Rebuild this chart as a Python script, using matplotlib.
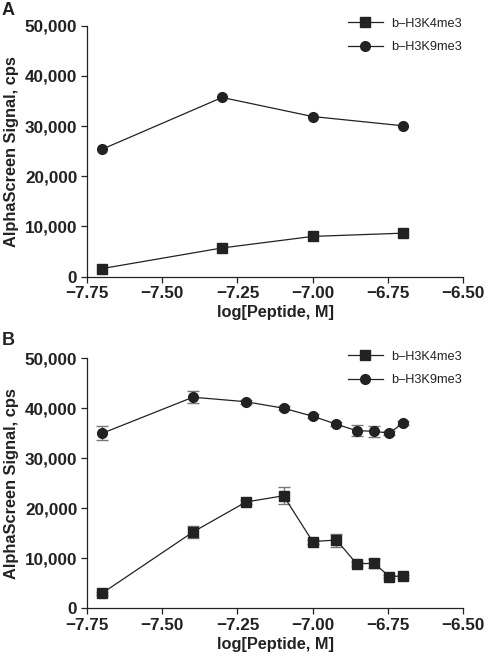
import numpy as np
import matplotlib
matplotlib.use('Agg')
import matplotlib.pyplot as plt
from matplotlib.ticker import FuncFormatter

plt.rcParams['font.family'] = ['Liberation Sans', 'DejaVu Sans']
plt.rcParams['axes.unicode_minus'] = True

# panel A
conc_a = [2e-8, 5e-8, 1e-7, 2e-7]
k4_a = [1600, 5700, 8000, 8650]
k9_a = [25400, 35700, 31900, 30050]

# panel B
conc_b = [2e-8, 4e-8, 6e-8, 8e-8, 1e-7, 1.2e-7, 1.4e-7, 1.6e-7, 1.8e-7, 2e-7]
k4_b = [3050, 15250, 21250, 22500, 13350, 13650, 8900, 9000, 6350, 6450]
k4_b_err = [300, 1200, 400, 1700, 400, 1300, 400, 900, 300, 300]
k9_b = [35000, 42200, 41300, 40000, 38400, 36800, 35500, 35400, 35000, 37100]
k9_b_err = [1400, 1250, 400, 400, 400, 400, 1100, 1100, 400, 400]

labels = ['b\u2013H3K4me3', 'b\u2013H3K9me3']
xticks = [-7.75, -7.5, -7.25, -7.0, -6.75, -6.5]
yticks = [0, 10000, 20000, 30000, 40000, 50000]

fig = plt.figure(figsize=(4.89, 6.6), dpi=100)
ax_a = fig.add_axes([0.178, 0.581, 0.769, 0.380])
ax_b = fig.add_axes([0.178, 0.0783, 0.769, 0.379])

mk = dict(color='#222222', lw=0.9, markersize=7, clip_on=False, zorder=3)


def style(ax, handles, top):
    ax.set_xlim(-7.75, -6.5)
    ax.set_ylim(0, 50000)
    ax.set_xticks(xticks)
    ax.set_yticks(yticks)
    ax.xaxis.set_major_formatter(FuncFormatter(lambda v, p: ('%.2f' % v).replace('-', '\u2212')))
    ax.yaxis.set_major_formatter(FuncFormatter(lambda v, p: '{:,.0f}'.format(v)))
    for s in ['top', 'right']:
        ax.spines[s].set_visible(False)
    for s in ['left', 'bottom']:
        ax.spines[s].set_linewidth(0.9)
        ax.spines[s].set_color('#222222')
    ax.tick_params(direction='out', length=4, width=0.9, color='#222222',
                   labelsize=12.3, labelcolor='#222222', pad=3)
    for t in ax.get_xticklabels() + ax.get_yticklabels():
        t.set_fontweight('bold')
    ax.set_xlabel('log[Peptide, M]', fontsize=11.8, fontweight='bold', color='#222222', labelpad=3)
    ax.set_ylabel('AlphaScreen Signal, cps', fontsize=11.8, fontweight='bold', color='#222222', labelpad=4)
    ax.legend(handles=handles, labels=labels, loc='upper right', bbox_to_anchor=(1.027, top),
              frameon=False, fontsize=9.2, handlelength=2.8, labelspacing=0.9,
              handletextpad=0.6, labelcolor='#222222')


xa = np.log10(conc_a)
la, = ax_a.plot(xa, k4_a, marker='s', **mk)
lb, = ax_a.plot(xa, k9_a, marker='o', **mk)
style(ax_a, [la, lb], 1.077)

xb = np.log10(conc_b)
e1 = ax_b.errorbar(xb, k4_b, yerr=k4_b_err, marker='s', ecolor='#777777',
                   elinewidth=1.0, capsize=4, capthick=1.0, **mk)
e2 = ax_b.errorbar(xb, k9_b, yerr=k9_b_err, marker='o', ecolor='#777777',
                   elinewidth=1.0, capsize=4, capthick=1.0, **mk)
style(ax_b, [e1[0], e2[0]], 1.075)

fig.text(0.004, 0.997, 'A', fontsize=13, fontweight='bold', va='top', color='#222222')
fig.text(0.004, 0.497, 'B', fontsize=13, fontweight='bold', va='top', color='#222222')

fig.savefig('out.png', dpi=100)
